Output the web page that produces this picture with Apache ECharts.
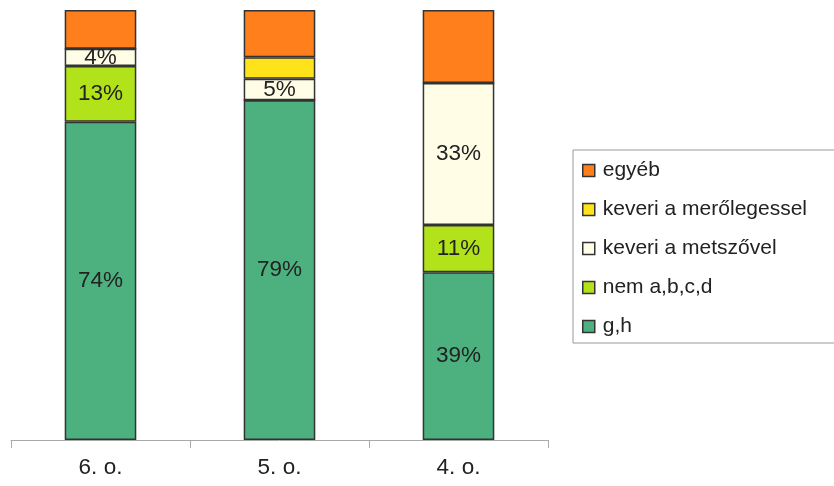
<!DOCTYPE html>
<html>
<head>
<meta charset="utf-8">
<script src="https://cdn.jsdelivr.net/npm/echarts@6/dist/echarts.min.js"></script>
<style>
  html, body { margin: 0; padding: 0; background: #fff; }
  #chart { width: 834px; height: 486px; }
</style>
</head>
<body>
<div id="chart"></div>
<script>
// Grades on the x axis
const categories = ['6. o.', '5. o.', '4. o.'];

// Percentage share of each answer type per grade
const gh = [74, 79, 39];            // g,h
const nemAbcd = [13, 0, 11];         // nem a,b,c,d
const metszovel = [4, 5, 33];        // keveri a metszővel
const merolegessel = [0, 5, 0];      // keveri a merőlegessel
const egyeb = [9, 11, 17];           // egyéb

const seriesNames = ['g,h', 'nem a,b,c,d', 'keveri a metszővel', 'keveri a merőlegessel', 'egyéb'];
const seriesValues = [gh, nemAbcd, metszovel, merolegessel, egyeb];
const seriesColors = ['#4cb07f', '#b2e31a', '#fffde6', '#ffe31a', '#fe7f1c'];
const labelled = [true, true, true, false, false];

const font = 'Liberation Sans, Arial, sans-serif';

const chart = echarts.init(document.getElementById('chart'), null, { renderer: 'canvas' });

const series = seriesNames.map((name, i) => ({
  name: name,
  type: 'bar',
  stack: 'total',
  barWidth: '40%',
  data: seriesValues[i],
  itemStyle: { color: seriesColors[i], borderColor: '#333', borderWidth: 1.5 },
  label: {
    show: labelled[i],
    position: 'inside',
    fontFamily: font,
    fontSize: 22.5,
    color: '#222',
    formatter: p => (p.value > 0 ? p.value + '%' : '')
  },
  emphasis: { disabled: true }
}));

chart.setOption({
  animation: false,
  grid: { left: 11, right: 286, top: 10, bottom: 46 },
  xAxis: {
    type: 'category',
    data: categories,
    boundaryGap: true,
    axisLine: { lineStyle: { color: '#aaa', width: 1 } },
    axisTick: { show: true, length: 8, lineStyle: { color: '#aaa' } },
    axisLabel: { fontFamily: font, fontSize: 22.5, color: '#222', margin: 16 }
  },
  yAxis: {
    type: 'value',
    min: 0,
    max: 100,
    show: false
  },
  legend: {
    data: ['egyéb', 'keveri a merőlegessel', 'keveri a metszővel', 'nem a,b,c,d', 'g,h'],
    orient: 'vertical',
    left: 573,
    top: 150,
    width: 300,
    padding: [10, 60, 6, 9],
    itemGap: 18,
    itemWidth: 12,
    itemHeight: 12,
    icon: 'rect',
    borderColor: '#999',
    borderWidth: 1,
    itemStyle: { borderColor: '#333', borderWidth: 1.5 },
    textStyle: { fontFamily: font, fontSize: 21, color: '#222', padding: [0, 0, 0, 3] },
    selectedMode: false
  },
  series: series
});
</script>
</body>
</html>
